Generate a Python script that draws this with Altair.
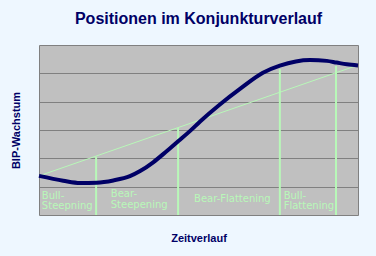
import altair as alt
import pandas as pd

# curve (Konjunktur)
curve_x = [0, 7.6, 12.9, 18.1, 23.3, 28.5, 31.7, 35.8, 40.0, 43.7, 47.3, 50.5, 56.7, 63.0, 70.2, 75.5, 85.0, 90.2, 93.3, 96.5, 100]
curve_y = [1.38, 1.21, 1.13, 1.14, 1.22, 1.37, 1.55, 1.86, 2.25, 2.61, 2.96, 3.30, 3.90, 4.45, 5.02, 5.27, 5.47, 5.44, 5.38, 5.32, 5.28]

# straight trend line
trend_x = [0, 100]
trend_y = [1.38, 5.29]

# vertical separators
sep_x = [17.9, 43.6, 75.5, 93.1]
sep_top = [2.06, 3.07, 5.15, 5.26]

# phase labels
label_x = [0.9, 22.5, 48.6, 76.7]
label_y = [0.85, 0.91, 0.73, 0.85]
label_text = [["Bull-", "Steepning"], ["Bear-", "Steepening"], ["Bear-Flattening"], ["Bull-", "Flattening"]]

navy = "#000066"
green = "#b8f8b8"

curve_df = pd.DataFrame({"x": curve_x, "y": curve_y})
trend_df = pd.DataFrame({"x": trend_x, "y": trend_y})
sep_df = pd.DataFrame({"x": sep_x, "top": sep_top, "bottom": [0] * len(sep_x)})
lab_df = pd.DataFrame({"x": label_x, "y": label_y, "text": label_text})

xs = alt.Scale(domain=[0, 100], nice=False, zero=False)
ys = alt.Scale(domain=[0, 6], nice=False, zero=False)

x_axis = alt.Axis(title="Zeitverlauf", labels=False, ticks=False, domain=False, grid=False,
                  titleFont="Liberation Sans", titleFontSize=11, titleFontWeight="bold",
                  titleColor=navy, titlePadding=17)
y_axis = alt.Axis(title="BIP-Wachstum", labels=False, ticks=False, domain=False, grid=True,
                  values=[1, 2, 3, 4, 5], gridColor="#808080", gridWidth=1, gridOpacity=1,
                  titleFont="Liberation Sans", titleFontSize=11, titleFontWeight="bold",
                  titleColor=navy, titlePadding=18)

base_trend = alt.Chart(trend_df).mark_line(color=green, strokeWidth=1).encode(
    x=alt.X("x:Q", scale=xs, axis=x_axis),
    y=alt.Y("y:Q", scale=ys, axis=y_axis),
)

seps = alt.Chart(sep_df).mark_rule(color=green, strokeWidth=2).encode(
    x=alt.X("x:Q", scale=xs),
    y=alt.Y("bottom:Q", scale=ys),
    y2="top:Q",
)

curve = alt.Chart(curve_df).mark_line(color=navy, strokeWidth=4, interpolate="monotone").encode(
    x=alt.X("x:Q", scale=xs),
    y=alt.Y("y:Q", scale=ys),
)

labels = alt.Chart(lab_df).mark_text(color=green, font="DejaVu Sans", fontSize=10,
                                     align="left", baseline="top", lineHeight=10.5).encode(
    x=alt.X("x:Q", scale=xs),
    y=alt.Y("y:Q", scale=ys),
    text="text",
)

chart = alt.layer(base_trend, seps, curve, labels).properties(
    width=319, height=170,
    autosize=alt.AutoSizeParams(type="none"),
    padding={"left": 39, "top": 45, "right": 18, "bottom": 41},
    background="#eef7ff",
    title=alt.TitleParams("Positionen im Konjunkturverlauf", font="Liberation Sans", fontSize=16,
                          fontWeight="bold", color=navy, offset=18, anchor="middle"),
).configure_view(fill="#c0c0c0", stroke="#808080", strokeWidth=1)

chart.save("out.html", embed_options={"renderer": "svg", "actions": False})
